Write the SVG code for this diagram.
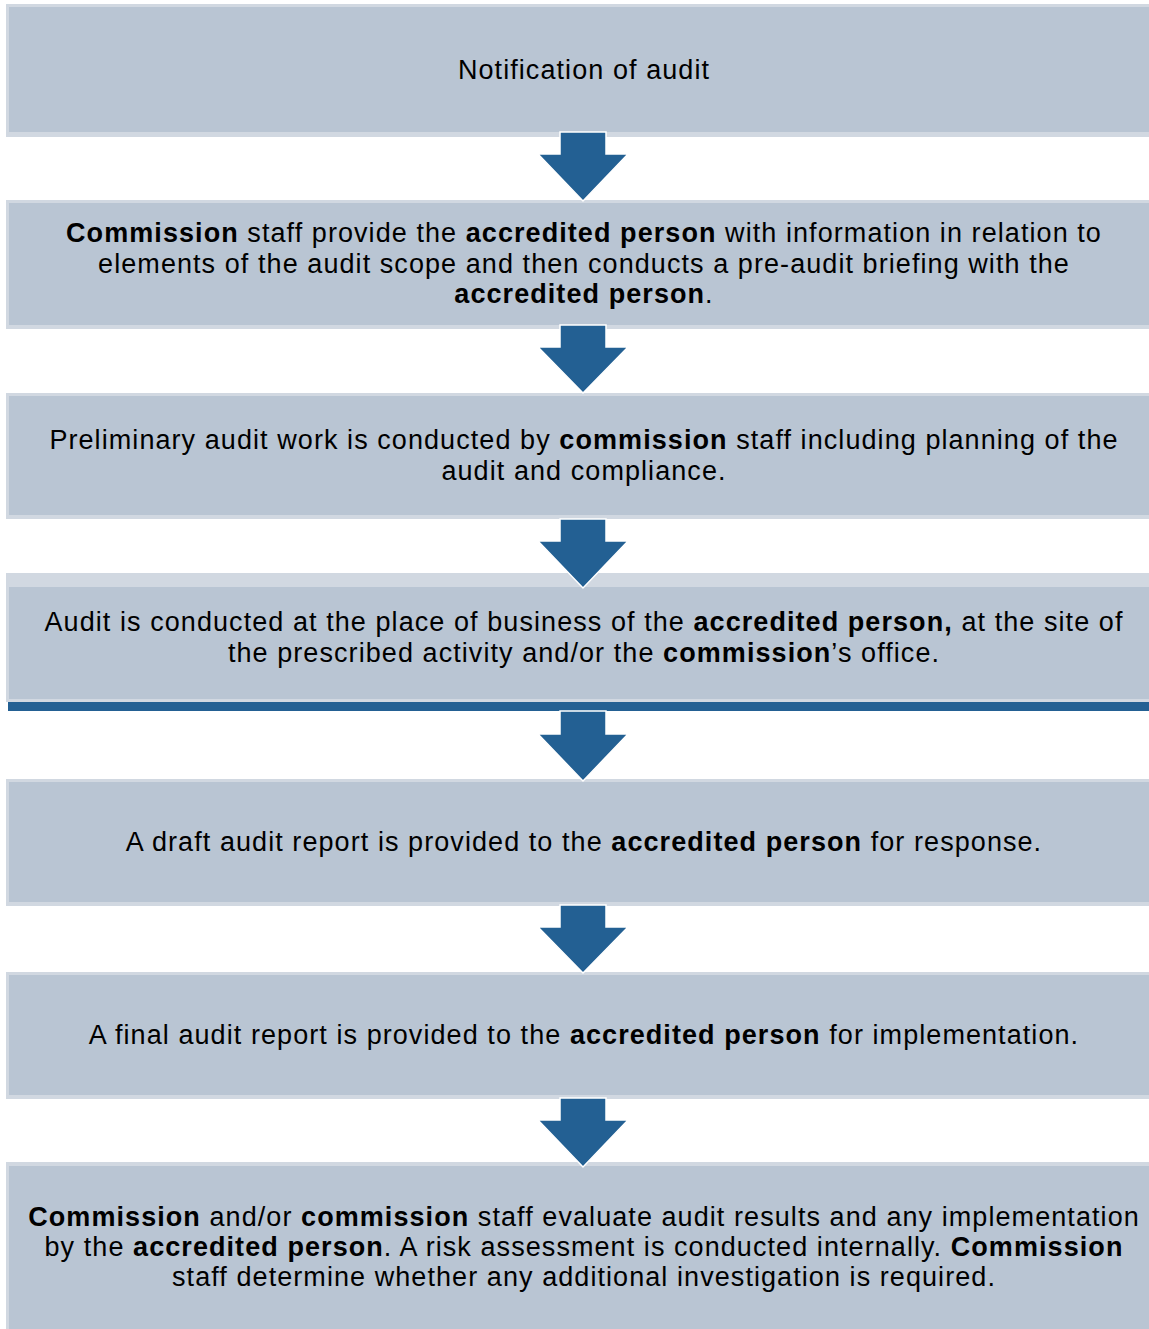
<svg xmlns="http://www.w3.org/2000/svg" width="1149" height="1329" viewBox="0 0 1149 1329">
<style>
.o{fill:#D1D8E1}
.i{fill:#B9C5D3}
.t{font-family:"Liberation Sans",Arial,sans-serif;font-size:27px;letter-spacing:1.07px;fill:#000;text-anchor:middle}
.b{font-weight:bold}
.a{fill:#236093;stroke:#fff;stroke-width:1.5;stroke-linejoin:miter}
</style>
<rect width="1149" height="1329" fill="#fff"/>
<g id="n1">
<rect class="o" x="6" y="4" width="1160" height="133"/>
<rect class="i" x="9" y="7" width="1160" height="125"/>
<text class="t" x="584" y="79">Notification of audit</text>
</g>
<g id="n2">
<rect class="o" x="6" y="200" width="1160" height="129"/>
<rect class="i" x="9" y="203" width="1160" height="122"/>
<text class="t" x="584" y="242"><tspan class="b">Commission</tspan> staff provide the <tspan class="b">accredited person</tspan> with information in relation to</text>
<text class="t" x="584" y="273">elements of the audit scope and then conducts a pre-audit briefing with the</text>
<text class="t" x="584" y="303"><tspan class="b">accredited person</tspan>.</text>
</g>
<g id="n3">
<rect class="o" x="6" y="393" width="1160" height="126"/>
<rect class="i" x="9" y="396" width="1160" height="119"/>
<text class="t" x="584" y="449">Preliminary audit work is conducted by <tspan class="b">commission</tspan> staff including planning of the</text>
<text class="t" x="584" y="480">audit and compliance.</text>
</g>
<g id="n4">
<rect class="o" x="6" y="573" width="1160" height="129"/>
<rect class="i" x="9" y="587" width="1160" height="112"/>
<rect x="8" y="702" width="1160" height="9" fill="#236093"/>
<text class="t" x="584" y="631">Audit is conducted at the place of business of the <tspan class="b">accredited person,</tspan> at the site of</text>
<text class="t" x="584" y="662">the prescribed activity and/or the <tspan class="b">commission</tspan>’s office.</text>
</g>
<g id="n5">
<rect class="o" x="6" y="779" width="1160" height="127"/>
<rect class="i" x="9" y="782" width="1160" height="120"/>
<text class="t" x="584" y="851">A draft audit report is provided to the <tspan class="b">accredited person</tspan> for response.</text>
</g>
<g id="n6">
<rect class="o" x="6" y="972" width="1160" height="127"/>
<rect class="i" x="9" y="975" width="1160" height="120"/>
<text class="t" x="584" y="1044">A final audit report is provided to the <tspan class="b">accredited person</tspan> for implementation.</text>
</g>
<g id="n7">
<rect class="o" x="6" y="1162" width="1160" height="170"/>
<rect class="i" x="9" y="1166" width="1160" height="170"/>
<text class="t" x="584" y="1226"><tspan class="b">Commission</tspan> and/or <tspan class="b">commission</tspan> staff evaluate audit results and any implementation</text>
<text class="t" x="584" y="1256">by the <tspan class="b">accredited person</tspan>. A risk assessment is conducted internally. <tspan class="b">Commission</tspan></text>
<text class="t" x="584" y="1286">staff determine whether any additional investigation is required.</text>
</g>
<g id="connectors">
<polygon class="a" points="560,132 606,132 606,154 628,154 583,201 538,154 560,154"/>
<polygon class="a" points="560,325 606,325 606,347 628,347 583,393 538,347 560,347"/>
<polygon class="a" points="560,519 606,519 606,541 628,541 583,588 538,541 560,541"/>
<polygon class="a" points="560,711 606,711 606,734 628,734 583,781 538,734 560,734"/>
<polygon class="a" points="560,905 606,905 606,927 628,927 583,973 538,927 560,927"/>
<polygon class="a" points="560,1098 606,1098 606,1120 628,1120 583,1167 538,1120 560,1120"/>
</g>
</svg>
